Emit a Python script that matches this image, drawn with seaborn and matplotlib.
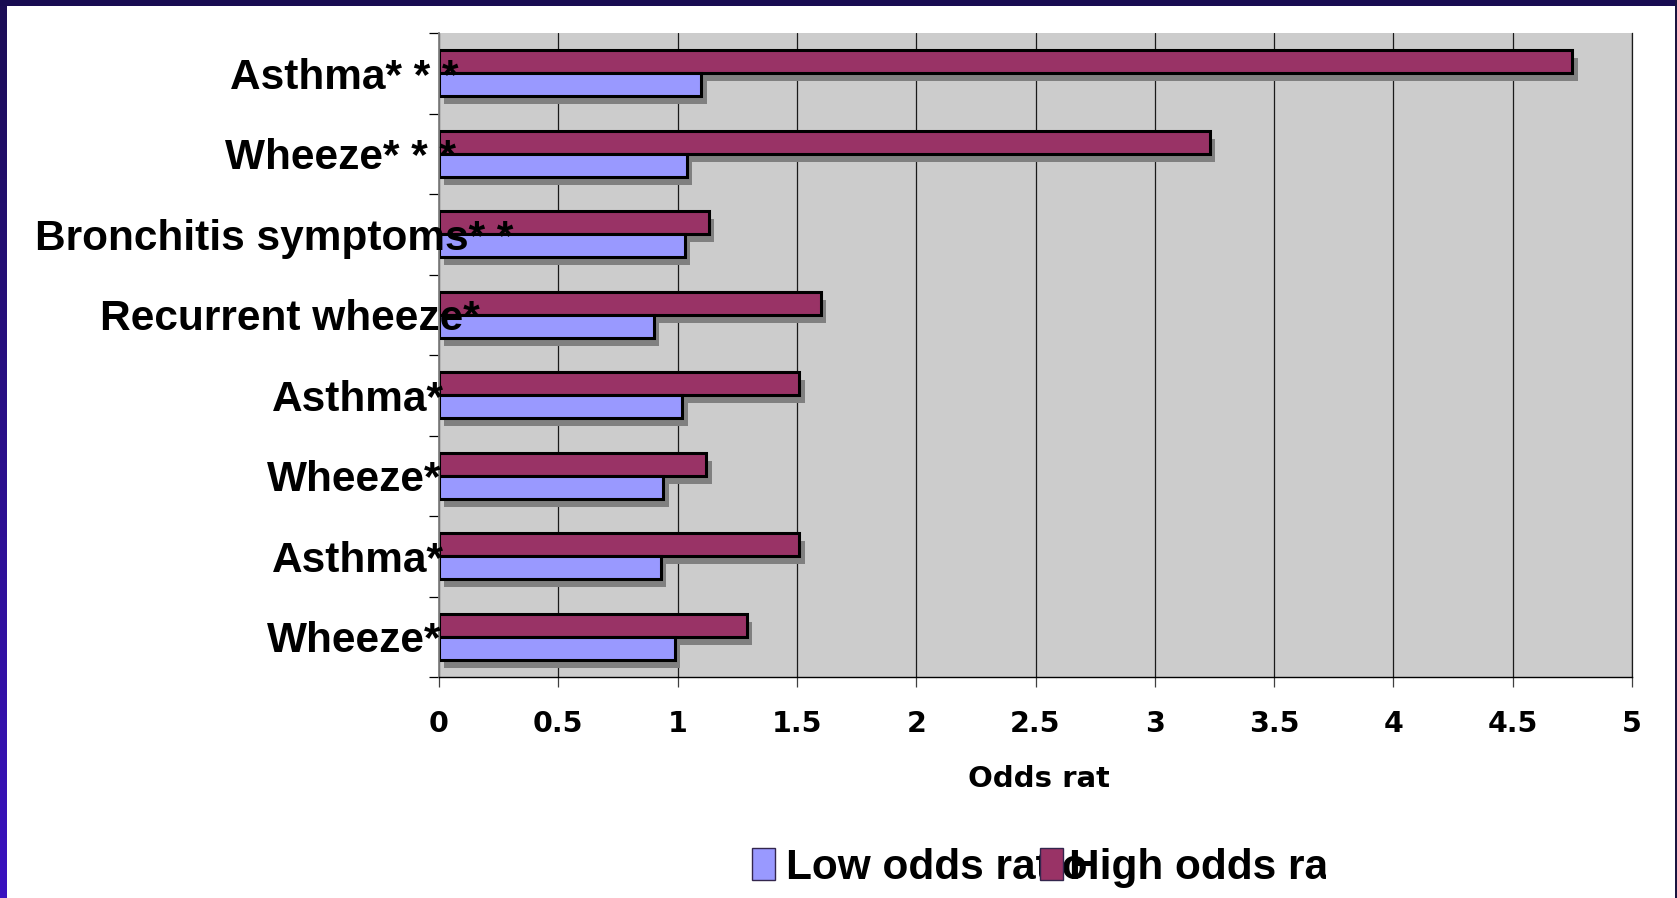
import numpy as np
import pandas as pd
import matplotlib
matplotlib.use("Agg")
import matplotlib.pyplot as plt
import seaborn as sns
from matplotlib import patheffects
from matplotlib.patches import Rectangle
from matplotlib.transforms import Bbox, TransformedBbox, blended_transform_factory

# ---- data -------------------------------------------------------------
outcomes = ["Asthma* * *", "Wheeze* * *", "Bronchitis symptoms* *",
            "Recurrent wheeze*", "Asthma*", "Wheeze*", "Asthma*", "Wheeze*"]
low_or = [1.10, 1.04, 1.03, 0.90, 1.02, 0.94, 0.93, 0.99]
high_or = [4.75, 3.23, 1.13, 1.60, 1.51, 1.12, 1.51, 1.29]
series_names = ["High odds ratio", "Low odds ratio"]
x_ticks = [0, 0.5, 1, 1.5, 2, 2.5, 3, 3.5, 4, 4.5, 5]
x_tick_labels = ["0", "0.5", "1", "1.5", "2", "2.5", "3", "3.5", "4", "4.5", "5"]
x_title = "Odds ratio"

colors = {"High odds ratio": "#993366", "Low odds ratio": "#9999FF"}

# ---- figure -----------------------------------------------------------
W, H, DPI = 1677, 898, 100
sns.set_theme(style="white")
plt.rcParams["font.family"] = ["Liberation Sans", "DejaVu Sans"]

fig = plt.figure(figsize=(W / DPI, H / DPI), dpi=DPI, facecolor="white")


def px(x0, y0, x1, y1):
    """Figure-fraction rectangle from pixel extents (top-left origin)."""
    return [x0 / W, (H - y1) / H, (x1 - x0) / W, (y1 - y0) / H]


# slide frame: dark band on top, gradient strip on the left, thin edge at right
fig.patches.append(Rectangle((0, (H - 6) / H), 1, 6 / H, transform=fig.transFigure,
                             facecolor="#180c52", edgecolor="none", zorder=0))
fig.patches.append(Rectangle(((W - 2) / W, 0), 2 / W, 1, transform=fig.transFigure,
                             facecolor="#1a1440", edgecolor="none", zorder=0))
strip = fig.add_axes(px(0, 0, 7, H))
grad = np.linspace(0, 1, 256).reshape(-1, 1)
cmap = matplotlib.colors.LinearSegmentedColormap.from_list("frame", ["#1b0d55", "#3a12c0"])
strip.imshow(grad, aspect="auto", cmap=cmap, extent=(0, 1, 1, 0))
strip.set_axis_off()

# ---- bars -------------------------------------------------------------
rows = [str(i) for i in range(len(outcomes))]
df = pd.DataFrame({
    "row": rows * 2,
    "series": ["High odds ratio"] * len(rows) + ["Low odds ratio"] * len(rows),
    "value": high_or + low_or,
})

ax = fig.add_axes(px(439, 33, 1632, 677))
ax.set_facecolor("#CCCCCC")
sns.barplot(data=df, y="row", x="value", hue="series", order=rows,
            hue_order=series_names, palette=colors, orient="h",
            width=0.572, gap=0, saturation=1, errorbar=None,
            edgecolor="black", linewidth=2.2, legend=False, ax=ax)

for patch in ax.patches:
    patch.set_path_effects([
        patheffects.SimplePatchShadow(offset=(3.8, -5.6), shadow_rgbFace="#808080", alpha=1.0),
        patheffects.Normal(),
    ])

ax.set_xlim(0, 5)
ax.set_ylim(len(rows) - 0.5, -0.5)
ax.set_axisbelow(True)
ax.xaxis.grid(True, color="#1a1a1a", linewidth=0.9)
ax.yaxis.grid(False)

ax.spines["top"].set_visible(False)
ax.spines["right"].set_color("#1a1a1a")
ax.spines["right"].set_linewidth(0.9)
ax.spines["left"].set_color("#808080")
ax.spines["left"].set_linewidth(1.3)
ax.spines["bottom"].set_color("black")
ax.spines["bottom"].set_linewidth(1.0)

ax.set_yticks(np.arange(-0.5, len(rows), 1.0))
ax.set_yticklabels([])
ax.tick_params(axis="y", left=True, length=7.2, width=0.9, color="black", direction="out")

ax.set_xticks(x_ticks)
ax.set_xticklabels(x_tick_labels, fontsize=20.5, fontweight="bold",
                   family="DejaVu Sans", color="black")
ax.tick_params(axis="x", bottom=True, length=7.2, width=0.9, color="#404040",
               direction="out", pad=16.5)
ax.set_xlabel("")
ax.set_ylabel("")

# category labels, drawn over the bars
label_left_px = [230, 225, 35, 100, 271.7, 266.7, 271.7, 266.7]
lab_tr = blended_transform_factory(fig.transFigure, ax.transData)
for i, (name, lx) in enumerate(zip(outcomes, label_left_px)):
    ax.text(lx / W, i + 0.19, name, transform=lab_tr, ha="left", va="baseline",
            fontsize=30.5, fontweight="bold", family="Liberation Sans",
            color="black", clip_on=False, zorder=10)

# axis title, cut off on the right
xt = fig.text(968 / W, (H - 786.7) / H, x_title, ha="left", va="baseline",
              fontsize=21, fontweight="bold", family="DejaVu Sans", color="black")
xt.set_clip_box(TransformedBbox(Bbox.from_extents(0, 0, 1109 / W, 1), fig.transFigure))
xt.set_clip_on(True)

# ---- legend -------------------------------------------------------------
leg_specs = [("Low odds ratio", 752, 786), ("High odds ratio", 1040, 1069)]
z = 3
for name, mx, tx in leg_specs:
    fig.patches.append(Rectangle((mx / W, (H - 880) / H), 23 / W, 32 / H,
                                 transform=fig.transFigure, facecolor=colors[name],
                                 edgecolor="#33264d", linewidth=1.0, zorder=z + 1))
    t = fig.text(tx / W, (H - 879) / H, name, ha="left", va="baseline",
                 fontsize=30.5, fontweight="bold", family="Liberation Sans",
                 color="black", zorder=z + 2)
    t.set_clip_box(TransformedBbox(Bbox.from_extents(0, 0, 1326 / W, 1), fig.transFigure))
    t.set_clip_on(True)
    z += 2

fig.savefig("out.png", dpi=DPI, facecolor="white")
